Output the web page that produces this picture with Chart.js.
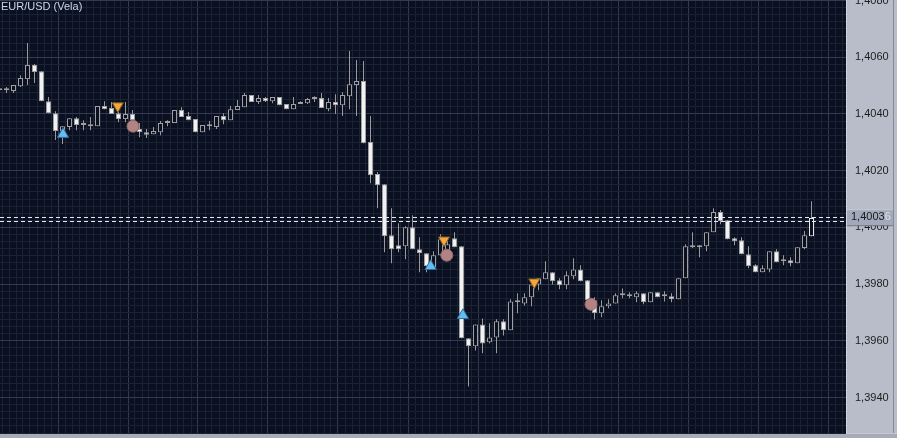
<!DOCTYPE html>
<html>
<head>
<meta charset="utf-8">
<script src="https://cdn.jsdelivr.net/npm/chart.js@4"></script>
<style>
  body { margin: 0; background: #b9bdca; }
  canvas { display: block; }
</style>
</head>
<body>
<canvas id="chart" width="897" height="438"></canvas>
<script>
// EUR/USD candles, bar 0 = oldest visible (left edge)
const candleOpen = [
  1.40484, 1.40484, 1.40481, 1.40498, 1.40523, 1.40573, 1.40551, 1.40445, 1.40403, 1.40340,
  1.40354, 1.40385, 1.40361, 1.40357, 1.40357, 1.40428, 1.40421, 1.40403, 1.40382, 1.40400,
  1.40347, 1.40336, 1.40329, 1.40336, 1.40368, 1.40368, 1.40414, 1.40393, 1.40382, 1.40336,
  1.40357, 1.40354, 1.40393, 1.40378, 1.40414, 1.40424, 1.40467, 1.40442, 1.40456, 1.40445,
  1.40460, 1.40435, 1.40417, 1.40442, 1.40438, 1.40453, 1.40456, 1.40417, 1.40442, 1.40431,
  1.40463, 1.40502, 1.40516, 1.40301, 1.40188, 1.40152, 1.39972, 1.39937, 1.39934, 1.40001,
  1.39923, 1.39909, 1.39859, 1.39902, 1.39912, 1.39962, 1.39934, 1.39609, 1.39581, 1.39658,
  1.39595, 1.39612, 1.39669, 1.39637, 1.39736, 1.39732, 1.39754, 1.39799, 1.39817, 1.39842,
  1.39814, 1.39796, 1.39828, 1.39852, 1.39814, 1.39743, 1.39697, 1.39722, 1.39732, 1.39761,
  1.39757, 1.39754, 1.39768, 1.39736, 1.39771, 1.39757, 1.39757, 1.39747, 1.39821, 1.39930,
  1.39937, 1.39934, 1.39983, 1.40054, 1.40025, 1.39962, 1.39955, 1.39905, 1.39867, 1.39842,
  1.39852, 1.39916, 1.39881, 1.39884, 1.39874, 1.39927, 1.39969
];
const candleHigh = [
  1.40491, 1.40495, 1.40502, 1.40537, 1.40650, 1.40576, 1.40551, 1.40460, 1.40410, 1.40357,
  1.40385, 1.40389, 1.40378, 1.40389, 1.40428, 1.40445, 1.40442, 1.40414, 1.40442, 1.40414,
  1.40368, 1.40347, 1.40354, 1.40375, 1.40378, 1.40414, 1.40424, 1.40407, 1.40382, 1.40361,
  1.40375, 1.40393, 1.40403, 1.40428, 1.40449, 1.40474, 1.40467, 1.40467, 1.40460, 1.40460,
  1.40460, 1.40435, 1.40460, 1.40445, 1.40456, 1.40463, 1.40474, 1.40456, 1.40470, 1.40477,
  1.40622, 1.40590, 1.40587, 1.40393, 1.40195, 1.40152, 1.40068, 1.40015, 1.40004, 1.40043,
  1.39965, 1.39909, 1.39916, 1.39976, 1.39955, 1.39983, 1.39934, 1.39609, 1.39658, 1.39679,
  1.39662, 1.39676, 1.39676, 1.39747, 1.39768, 1.39768, 1.39810, 1.39821, 1.39881, 1.39842,
  1.39821, 1.39845, 1.39891, 1.39867, 1.39814, 1.39754, 1.39743, 1.39747, 1.39768, 1.39785,
  1.39771, 1.39775, 1.39768, 1.39771, 1.39771, 1.39775, 1.39768, 1.39821, 1.39941, 1.39983,
  1.39937, 1.39983, 1.40068, 1.40061, 1.40025, 1.39965, 1.39965, 1.39934, 1.39870, 1.39867,
  1.39916, 1.39923, 1.39902, 1.39895, 1.39930, 1.39987, 1.40092
];
const candleLow = [
  1.40477, 1.40474, 1.40474, 1.40495, 1.40502, 1.40509, 1.40445, 1.40403, 1.40308, 1.40294,
  1.40343, 1.40343, 1.40343, 1.40343, 1.40357, 1.40417, 1.40400, 1.40371, 1.40371, 1.40354,
  1.40318, 1.40315, 1.40329, 1.40325, 1.40357, 1.40368, 1.40389, 1.40378, 1.40336, 1.40336,
  1.40343, 1.40347, 1.40364, 1.40378, 1.40414, 1.40424, 1.40442, 1.40435, 1.40442, 1.40438,
  1.40431, 1.40417, 1.40417, 1.40435, 1.40435, 1.40442, 1.40421, 1.40410, 1.40400, 1.40393,
  1.40417, 1.40393, 1.40297, 1.40156, 1.40068, 1.39912, 1.39874, 1.39912, 1.39888, 1.39923,
  1.39842, 1.39842, 1.39859, 1.39902, 1.39898, 1.39930, 1.39609, 1.39439, 1.39566, 1.39556,
  1.39591, 1.39556, 1.39619, 1.39637, 1.39697, 1.39725, 1.39722, 1.39778, 1.39817, 1.39799,
  1.39782, 1.39782, 1.39817, 1.39810, 1.39743, 1.39676, 1.39683, 1.39715, 1.39732, 1.39750,
  1.39750, 1.39736, 1.39729, 1.39736, 1.39754, 1.39739, 1.39736, 1.39747, 1.39821, 1.39927,
  1.39895, 1.39916, 1.39983, 1.40011, 1.39958, 1.39937, 1.39905, 1.39856, 1.39842, 1.39842,
  1.39842, 1.39877, 1.39867, 1.39863, 1.39874, 1.39923, 1.39969
];
const candleClose = [
  1.40484, 1.40484, 1.40502, 1.40527, 1.40573, 1.40548, 1.40445, 1.40403, 1.40340, 1.40357,
  1.40385, 1.40361, 1.40361, 1.40357, 1.40428, 1.40417, 1.40400, 1.40382, 1.40400, 1.40378,
  1.40336, 1.40327, 1.40340, 1.40368, 1.40368, 1.40414, 1.40389, 1.40378, 1.40336, 1.40361,
  1.40357, 1.40393, 1.40378, 1.40417, 1.40428, 1.40467, 1.40442, 1.40456, 1.40445, 1.40460,
  1.40431, 1.40417, 1.40435, 1.40435, 1.40453, 1.40453, 1.40421, 1.40442, 1.40431, 1.40467,
  1.40505, 1.40516, 1.40297, 1.40184, 1.40149, 1.39969, 1.39923, 1.39923, 1.40001, 1.39923,
  1.39909, 1.39863, 1.39902, 1.39958, 1.39941, 1.39930, 1.39609, 1.39581, 1.39658, 1.39591,
  1.39612, 1.39669, 1.39637, 1.39739, 1.39736, 1.39754, 1.39799, 1.39821, 1.39842, 1.39810,
  1.39796, 1.39831, 1.39852, 1.39810, 1.39743, 1.39697, 1.39722, 1.39732, 1.39761, 1.39761,
  1.39757, 1.39768, 1.39736, 1.39771, 1.39754, 1.39757, 1.39747, 1.39821, 1.39934, 1.39930,
  1.39930, 1.39983, 1.40054, 1.40022, 1.39958, 1.39951, 1.39905, 1.39863, 1.39842, 1.39856,
  1.39916, 1.39877, 1.39881, 1.39874, 1.39930, 1.39972, 1.40033
];

// signal markers (bar position, price)
const buyX = [9.07, 61.6, 66.2];
const buyY = [1.40329, 1.39863, 1.39690];
const sellX = [16.9, 63.5, 76.4];
const sellY = [1.40428, 1.39955, 1.39807];
const exitX = [19.07, 63.9, 84.5];
const exitY = [1.40357, 1.39902, 1.39729];

const bidPrice = 1.40036;
const askPrice = 1.40022;
const yMin = 1.39275, yMax = 1.40802;
const yGridStep = 0.00025;   // labels every 8 steps (0,0020)

const bg = '#0a1020';
const gridMinor = '#1a2336';
const gridMajor = '#323b52';

const idx = candleOpen.map((_, i) => i);
const bodyFill = idx.map(i => candleClose[i] < candleOpen[i] ? '#f2f2f2'
  : candleClose[i] > candleOpen[i] ? bg : '#b4b4b4');
const bodyBorder = idx.map(i => i === idx.length - 1 ? '#e8e8e8' : '#a0a0a0');

const fmt = v => v.toFixed(4).replace('.', ',');

const backdrop = {
  id: 'backdrop',
  beforeDraw(chart) {
    const { ctx, chartArea: a, width, height } = chart;
    ctx.save();
    ctx.fillStyle = '#b9bdca';
    ctx.fillRect(0, 0, width, height);
    ctx.fillStyle = bg;
    ctx.fillRect(a.left, a.top, a.right - a.left, a.bottom - a.top);
    // bottom strip
    ctx.fillStyle = '#a7abb7';
    ctx.fillRect(0, a.bottom, width, height - a.bottom);
    ctx.fillStyle = '#c4c8d2';
    ctx.fillRect(0, a.bottom, width, 1);
    // panel edges
    ctx.fillStyle = '#d2d6df';
    ctx.fillRect(a.right, 0, 1, a.bottom);
    ctx.fillStyle = '#868a96';
    ctx.fillRect(width - 4, 0, 1, a.bottom);
    ctx.restore();
  }
};

const overlay = {
  id: 'overlay',
  afterDatasetsDraw(chart) {
    const { ctx, chartArea: a, scales: { y } } = chart;
    ctx.save();
    ctx.strokeStyle = '#e6e9f2';
    ctx.lineWidth = 1;
    ctx.setLineDash([4, 3]);
    [bidPrice, askPrice].forEach(p => {
      const py = Math.round(y.getPixelForValue(p)) + 0.5;
      ctx.beginPath();
      ctx.moveTo(a.left, py);
      ctx.lineTo(a.right, py);
      ctx.stroke();
    });
    ctx.restore();
  },
  afterDraw(chart) {
    const { ctx, chartArea: a, scales: { y }, width } = chart;
    ctx.save();
    // current price box on the axis
    const py = y.getPixelForValue(bidPrice);
    ctx.fillStyle = '#a1a9bb';
    ctx.fillRect(a.right + 1, py - 8, width - a.right - 5, 16);
    ctx.fillStyle = '#6e7484';
    ctx.fillRect(a.right + 1, py + 8, width - a.right - 5, 1);
    ctx.fillStyle = '#c9cdd8';
    ctx.fillRect(a.right + 1, py - 8, width - a.right - 5, 1);
    ctx.font = '11px "Liberation Sans", Arial, sans-serif';
    ctx.textBaseline = 'middle';
    const txt = bidPrice.toFixed(5).replace('.', ',');
    const head = txt.slice(0, -1);
    ctx.fillStyle = '#1a1a1a';
    ctx.fillText(head, a.right + 5, py);
    ctx.fillStyle = '#dde0e8';
    ctx.fillText(txt.slice(-1), a.right + 5 + ctx.measureText(head).width, py);
    // title
    ctx.fillStyle = '#cad5e8';
    ctx.textBaseline = 'alphabetic';
    ctx.fillText('EUR/USD (Vela)', 1, 10);
    ctx.restore();
  }
};

const noPad = s => { s.paddingTop = 0; s.paddingBottom = 0; s.paddingLeft = 0; s.paddingRight = 0; };

new Chart(document.getElementById('chart'), {
  type: 'bar',
  data: {
    datasets: [
      {
        type: 'scatter',
        data: buyX.map((x, k) => ({ x, y: buyY[k] })),
        pointStyle: 'triangle', pointRadius: 6.5,
        backgroundColor: '#64bcf0', borderColor: '#2d6d9e', borderWidth: 1,
        order: 1
      },
      {
        type: 'scatter',
        data: sellX.map((x, k) => ({ x, y: sellY[k] })),
        pointStyle: 'triangle', rotation: 180, pointRadius: 6.5,
        backgroundColor: '#f4a640', borderColor: '#7a5418', borderWidth: 1,
        order: 1
      },
      {
        type: 'scatter',
        data: exitX.map((x, k) => ({ x, y: exitY[k] })),
        pointStyle: 'circle', pointRadius: 6,
        backgroundColor: '#b38383', borderColor: '#946a6a', borderWidth: 1,
        order: 1
      },
      {
        // candle bodies
        data: idx.map(i => ({ x: i, y: [candleOpen[i], candleClose[i]] })),
        barThickness: 5, minBarLength: 2,
        backgroundColor: bodyFill, borderColor: bodyBorder, borderWidth: 1,
        borderSkipped: false, inflateAmount: 0, grouped: false,
        order: 2
      },
      {
        // wicks
        data: idx.map(i => ({ x: i, y: [candleLow[i], candleHigh[i]] })),
        barThickness: 1, backgroundColor: '#9a9a9a', borderWidth: 0,
        inflateAmount: 0, grouped: false,
        order: 3
      }
    ]
  },
  options: {
    responsive: false,
    animation: false,
    events: [],
    layout: { autoPadding: false, padding: { left: 0, top: 0, right: 0, bottom: 5 } },
    plugins: { legend: { display: false }, tooltip: { enabled: false } },
    scales: {
      x: {
        type: 'linear',
        offset: false,
        min: 0.5 / 7,
        max: 846.5 / 7,
        afterBuildTicks: s => {
          s.ticks = [];
          for (let n = 0; n <= 120; n++) s.ticks.push({ value: n + 2.5 / 7 });
        },
        afterFit: s => { s.height = 0; noPad(s); },
        ticks: { display: false, autoSkip: false },
        border: { display: false },
        grid: {
          offset: false,
          drawTicks: false,
          color: c => {
            if (!c.tick) return gridMinor;
            const n = Math.round(c.tick.value - 2.5 / 7);
            return ((n - 8) % 10 + 10) % 10 === 0 ? gridMajor : gridMinor;
          }
        }
      },
      y: {
        position: 'right',
        min: yMin,
        max: yMax,
        afterBuildTicks: s => {
          s.ticks = [];
          for (let k = Math.ceil(yMin / yGridStep); k * yGridStep <= yMax; k++) {
            s.ticks.push({ value: +(k * yGridStep).toFixed(5) });
          }
        },
        afterFit: s => { s.width = 51; noPad(s); },
        border: { display: false },
        grid: {
          drawTicks: false,
          color: c => c.tick && Math.round(c.tick.value / yGridStep) % 8 === 0 ? gridMajor : gridMinor
        },
        ticks: {
          autoSkip: false,
          padding: 9,
          color: '#1c1c1c',
          font: { family: '"Liberation Sans", Arial, sans-serif', size: 11 },
          callback: v => Math.round(v / yGridStep) % 8 === 0 ? fmt(v) : ''
        }
      }
    }
  },
  plugins: [backdrop, overlay]
});
</script>
</body>
</html>
